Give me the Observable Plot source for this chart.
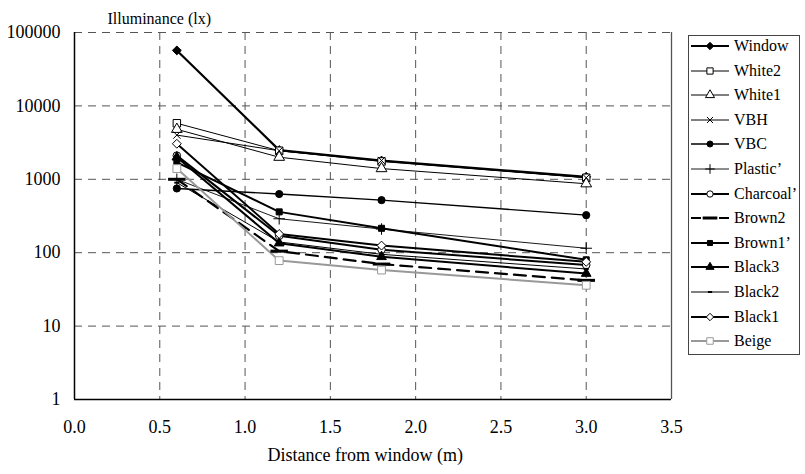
<!DOCTYPE html>
<html><head><meta charset="utf-8">
<script src="https://cdn.jsdelivr.net/npm/d3@7"></script>
<script src="https://cdn.jsdelivr.net/npm/@observablehq/plot@0.6"></script>
<style>
body{margin:0;background:#fff;}
#wrap{position:relative;width:805px;height:474px;font-family:"Liberation Serif","Tinos","Times New Roman","DejaVu Serif","Noto Serif",serif;}
#wrap svg text{font-family:"Liberation Serif","Tinos","Times New Roman","DejaVu Serif","Noto Serif",serif;}
#legend{position:absolute;left:688px;top:35px;width:112px;height:320px;border:1px solid #444;box-sizing:border-box;background:#fff;}
.row{position:absolute;left:0;height:24px;display:flex;align-items:center;font-size:16px;color:#000;white-space:nowrap;}
.row svg{display:block;margin-right:3px;}
</style></head><body><div id="wrap"><div id="chart"></div><div id="legend"></div></div>
<script>
// ---- data ----
const distances = [0.6, 1.2, 1.8, 3.0];
const seriesNames = ["Window", "White2", "White1", "VBH", "VBC", "Plastic’", "Charcoal’", "Brown2", "Brown1’", "Black3", "Black2", "Black1", "Beige"];
const windowLux   = [57000, 2500, 1800, 1080];
const white2Lux   = [5800, 2450, 1750, 1050];
const white1Lux   = [4800, 2000, 1400, 870];
const vbhLux      = [4000, 2450, 1800, 1050];
const vbcLux      = [750, 630, 520, 325];
const plasticLux  = [1000, 290, 210, 115];
const charcoalLux = [2100, 170, 110, 68];
const brown2Lux   = [1000, 105, 70, 42];
const brown1Lux   = [1700, 360, 215, 80];
const black3Lux   = [2000, 135, 88, 52];
const black2Lux   = [900, 140, 95, 60];
const black1Lux   = [3050, 180, 125, 75];
const beigeLux    = [1400, 78, 58, 36];
const xTicks = [0, 0.5, 1.0, 1.5, 2.0, 2.5, 3.0, 3.5];
const yTicks = [1, 10, 100, 1000, 10000, 100000];
const xGrid = [0.5, 1.0, 1.5, 2.0, 2.5, 3.0];
const yGrid = [10, 100, 1000, 10000, 100000];
const yTitle = "Illuminance (lx)";
const xTitle = "Distance from window (m)";

const allValues = [windowLux, white2Lux, white1Lux, vbhLux, vbcLux, plasticLux, charcoalLux, brown2Lux, brown1Lux, black3Lux, black2Lux, black1Lux, beigeLux];

// ---- styles ----
const serif = "'Liberation Serif', 'Tinos', 'Times New Roman', 'DejaVu Serif', 'Noto Serif', serif";
const dashSym = {draw(ctx, size) { const w = Math.sqrt(size) * 0.9; ctx.moveTo(-w, 0); ctx.lineTo(w, 0); }};
const styles = [
  {stroke: "#000", sw: 2.2, dash: null, symbol: "diamond2", fill: "#000", mstroke: "#000", r: 4.0},
  {stroke: "#000", sw: 1, dash: null, symbol: "square", fill: "#fff", mstroke: "#000", r: 4.2},
  {stroke: "#000", sw: 1, dash: null, symbol: "triangle", fill: "#fff", mstroke: "#000", r: 4.0},
  {stroke: "#000", sw: 1, dash: null, symbol: "times", fill: "none", mstroke: "#000", r: 3.4},
  {stroke: "#000", sw: 1.4, dash: null, symbol: "circle", fill: "#000", mstroke: "#000", r: 3.6},
  {stroke: "#000", sw: 0.9, dash: null, symbol: "plus", fill: "none", mstroke: "#000", r: 3.8},
  {stroke: "#000", sw: 2, dash: null, symbol: "circle", fill: "#fff", mstroke: "#000", r: 3.8},
  {stroke: "#000", sw: 2.2, dash: "12,7", symbol: dashSym, fill: "none", mstroke: "#000", r: 5.5, msw: 3},
  {stroke: "#000", sw: 2, dash: null, symbol: "square", fill: "#000", mstroke: "#000", r: 3.4},
  {stroke: "#000", sw: 2, dash: null, symbol: "triangle", fill: "#000", mstroke: "#000", r: 3.6},
  {stroke: "#000", sw: 1, dash: null, symbol: dashSym, fill: "none", mstroke: "#000", r: 1.6, msw: 2},
  {stroke: "#000", sw: 2, dash: null, symbol: "diamond2", fill: "#fff", mstroke: "#000", r: 4.0},
  {stroke: "#999", sw: 2, dash: null, symbol: "square", fill: "#fff", mstroke: "#999", r: 4.4}
];

const rows = [];
seriesNames.forEach((name, i) => distances.forEach((d, j) => rows.push({series: name, idx: i, x: d, y: allValues[i][j]})));

const marks = [
  Plot.ruleX(xGrid, {stroke: "#555", strokeWidth: 1, strokeDasharray: "8,6"}),
  Plot.ruleY(yGrid, {stroke: "#555", strokeWidth: 1, strokeDasharray: "8,6"}),
  Plot.ruleX([3.5], {stroke: "#555", strokeWidth: 1.3}),
  Plot.ruleX([0], {stroke: "#000", strokeWidth: 1.5}),
  Plot.ruleY([1], {stroke: "#000", strokeWidth: 1.5}),
];
seriesNames.forEach((name, i) => {
  const s = styles[i];
  const data = rows.filter(r => r.idx === i);
  marks.push(Plot.line(data, {x: "x", y: "y", stroke: s.stroke, strokeWidth: s.sw, strokeDasharray: s.dash || undefined}));
});
seriesNames.forEach((name, i) => {
  const s = styles[i];
  const data = rows.filter(r => r.idx === i);
  marks.push(Plot.dot(data, {x: "x", y: "y", symbol: () => s.symbol, r: s.r, fill: s.fill, stroke: s.mstroke, strokeWidth: s.msw || 1}));
});
marks.push(
  Plot.axisY({ticks: yTicks, tickFormat: d => String(d), tickSize: 0, tickPadding: 14, label: null, fontSize: 18}),
  Plot.axisX({ticks: xTicks, tickFormat: d3.format(".1f"), tickSize: 0, tickPadding: 21, label: null, fontSize: 18}),
  Plot.text([yTitle], {text: d => d, frameAnchor: "top-left", dx: 33, dy: -14, textAnchor: "start", lineAnchor: "middle", fontSize: 16}),
  Plot.text([xTitle], {text: d => d, frameAnchor: "bottom-left", dx: 193, dy: 56, textAnchor: "start", lineAnchor: "middle", fontSize: 18})
);

const chart = Plot.plot({
  width: 805, height: 474,
  marginLeft: 74, marginRight: 134, marginTop: 32, marginBottom: 75,
  x: {domain: [0, 3.5]},
  y: {type: "log", domain: [1, 100000]},
  symbol: {type: "identity"},
  style: {fontFamily: serif, color: "#000", background: "#fff"},
  marks
});
document.getElementById("chart").appendChild(chart);

// ---- legend ----
const symMap = {diamond2: d3.symbolDiamond2, square: d3.symbolSquare, triangle: d3.symbolTriangle, times: d3.symbolTimes, circle: d3.symbolCircle, plus: d3.symbolPlus};
const legend = document.getElementById("legend");
seriesNames.forEach((name, i) => {
  const s = styles[i];
  const row = document.createElement("div");
  row.className = "row";
  row.style.top = (-2 + i * 24.6) + "px";
  const svg = d3.create("svg").attr("width", 42).attr("height", 20);
  svg.append("line").attr("x1", 2).attr("x2", 40).attr("y1", 10).attr("y2", 10)
    .attr("stroke", s.stroke).attr("stroke-width", s.sw).attr("stroke-dasharray", s.dash ? "10,4" : null);
  const type = typeof s.symbol === "string" ? symMap[s.symbol] : s.symbol;
  svg.append("path").attr("transform", "translate(21,10)")
    .attr("d", d3.symbol(type, Math.PI * s.r * s.r * 0.7)())
    .attr("fill", s.fill).attr("stroke", s.mstroke).attr("stroke-width", s.msw || 1);
  row.appendChild(svg.node());
  const span = document.createElement("span");
  span.textContent = name;
  row.appendChild(span);
  legend.appendChild(row);
});
</script>
</body></html>
